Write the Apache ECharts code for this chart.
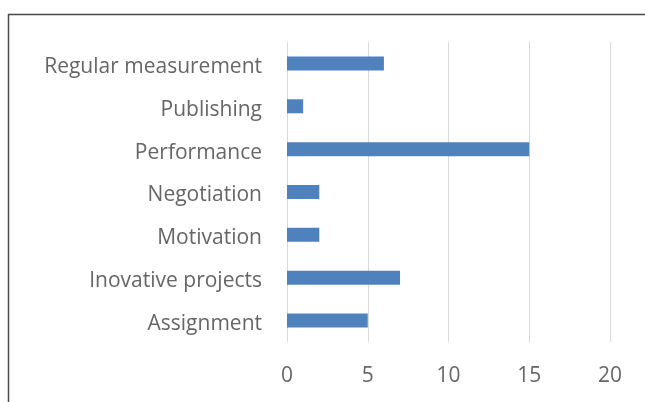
<!DOCTYPE html>
<html>
<head>
<meta charset="utf-8">
<script src="https://cdn.jsdelivr.net/npm/echarts@6/dist/echarts.min.js"></script>
<style>
  html, body { margin: 0; padding: 0; background: #fff; }
  #main { width: 645px; height: 402px; }
</style>
</head>
<body>
<div id="main"></div>
<script>
var categories = ['Regular measurement', 'Publishing', 'Performance', 'Negotiation', 'Motivation', 'Inovative projects', 'Assignment']
var values = [6, 1, 15, 2, 2, 7, 5]
var xTicks = [0, 5, 10, 15, 20]

var myChart = echarts.init(document.getElementById('main'))
var option

option = {
  backgroundColor: '#fff',
  animation: false,
  textStyle: { fontFamily: 'Open Sans' },
  // frame around the chart area (only top and left edges are visible in the crop)
  graphic: [
    {
      type: 'rect',
      shape: { x: 8.5, y: 14.5, width: 800, height: 600 },
      style: { fill: 'none', stroke: '#4a4a4a', lineWidth: 1.5 },
      silent: true,
    },
  ],
  grid: {
    left: 287,
    right: 35,
    top: 42,
    bottom: 60,
  },
  xAxis: {
    type: 'value',
    min: xTicks[0],
    max: xTicks[xTicks.length - 1],
    interval: 5,
    axisLine: { show: false },
    axisTick: { show: false },
    axisLabel: { color: '#666', fontSize: 21, margin: 24 },
    splitLine: { lineStyle: { color: '#d9d9d9', width: 1 } },
  },
  yAxis: {
    type: 'category',
    inverse: true,
    data: categories,
    axisLine: { show: false },
    axisTick: { show: false },
    axisLabel: {
      margin: 25,
      formatter: function (v) {
        return '{t|' + v + '}'
      },
      rich: {
        t: { color: '#666', fontSize: 21, fontFamily: 'Open Sans', padding: [7, 0, 0, 0] },
      },
    },
  },
  series: [
    {
      type: 'bar',
      data: values,
      barWidth: 14,
      itemStyle: { color: '#4f81bd' },
    },
  ],
}

option && myChart.setOption(option)
</script>
</body>
</html>
